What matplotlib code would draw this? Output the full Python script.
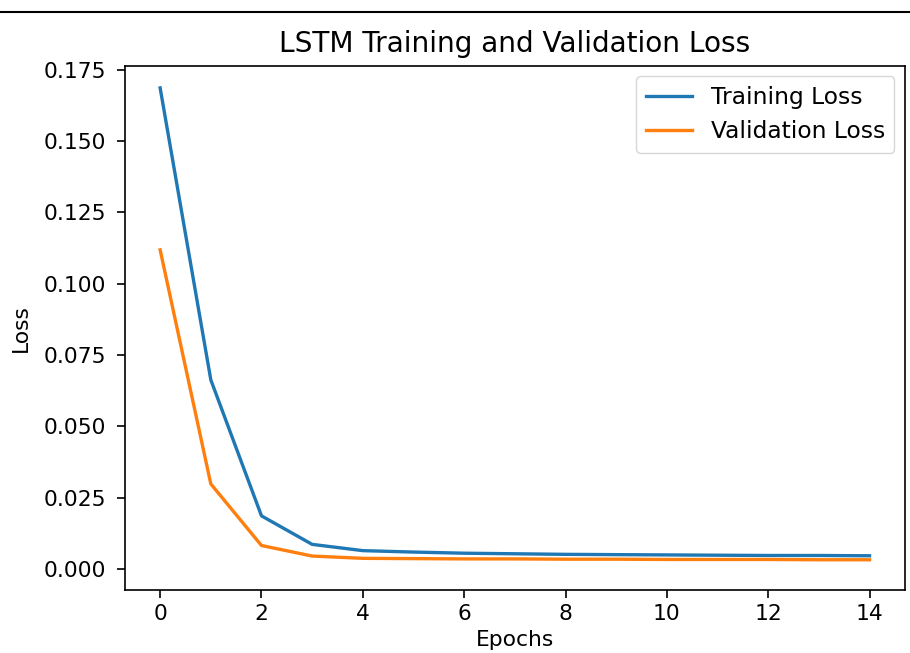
import numpy as np
import matplotlib.pyplot as plt
from matplotlib.lines import Line2D

epochs = list(range(15))
train_loss = [0.1687, 0.0663, 0.0186, 0.0086, 0.0064, 0.0059, 0.0055, 0.0053,
              0.0051, 0.0050, 0.0049, 0.0048, 0.0047, 0.0047, 0.0046]
val_loss = [0.1119, 0.0298, 0.0082, 0.0045, 0.0037, 0.0036, 0.0035, 0.0035,
            0.0034, 0.0034, 0.0033, 0.0033, 0.0033, 0.0032, 0.0032]

plt.rcParams.update({
    "font.size": 15.7,
    "axes.linewidth": 1.2,
    "xtick.major.size": 5.8,
    "ytick.major.size": 5.8,
    "xtick.major.width": 1.2,
    "ytick.major.width": 1.2,
    "xtick.major.pad": 4.5,
    "ytick.major.pad": 7.5,
    "lines.linewidth": 2.4,
})

fig = plt.figure(figsize=(9.1, 6.53), dpi=100)
ax = fig.add_axes([0.137, 0.0965, 0.8575, 0.8025])
ax.plot(epochs, train_loss, label="Training Loss")
ax.plot(epochs, val_loss, label="Validation Loss")
ax.set_title("LSTM Training and Validation Loss", fontsize=20.2, pad=10)
ax.set_xlabel("Epochs", labelpad=4)
ax.set_ylabel("Loss", labelpad=9)
ax.set_xticks(range(0, 15, 2))
ax.set_ylim(-0.0074, 0.1764)
ax.legend(loc="upper right", fontsize=16.8, borderaxespad=0.45)

# screenshot border line at top
fig.add_artist(Line2D([0, 1], [0.9816, 0.9816], color="black", lw=1.5))

fig.savefig("out.png", dpi=100)
